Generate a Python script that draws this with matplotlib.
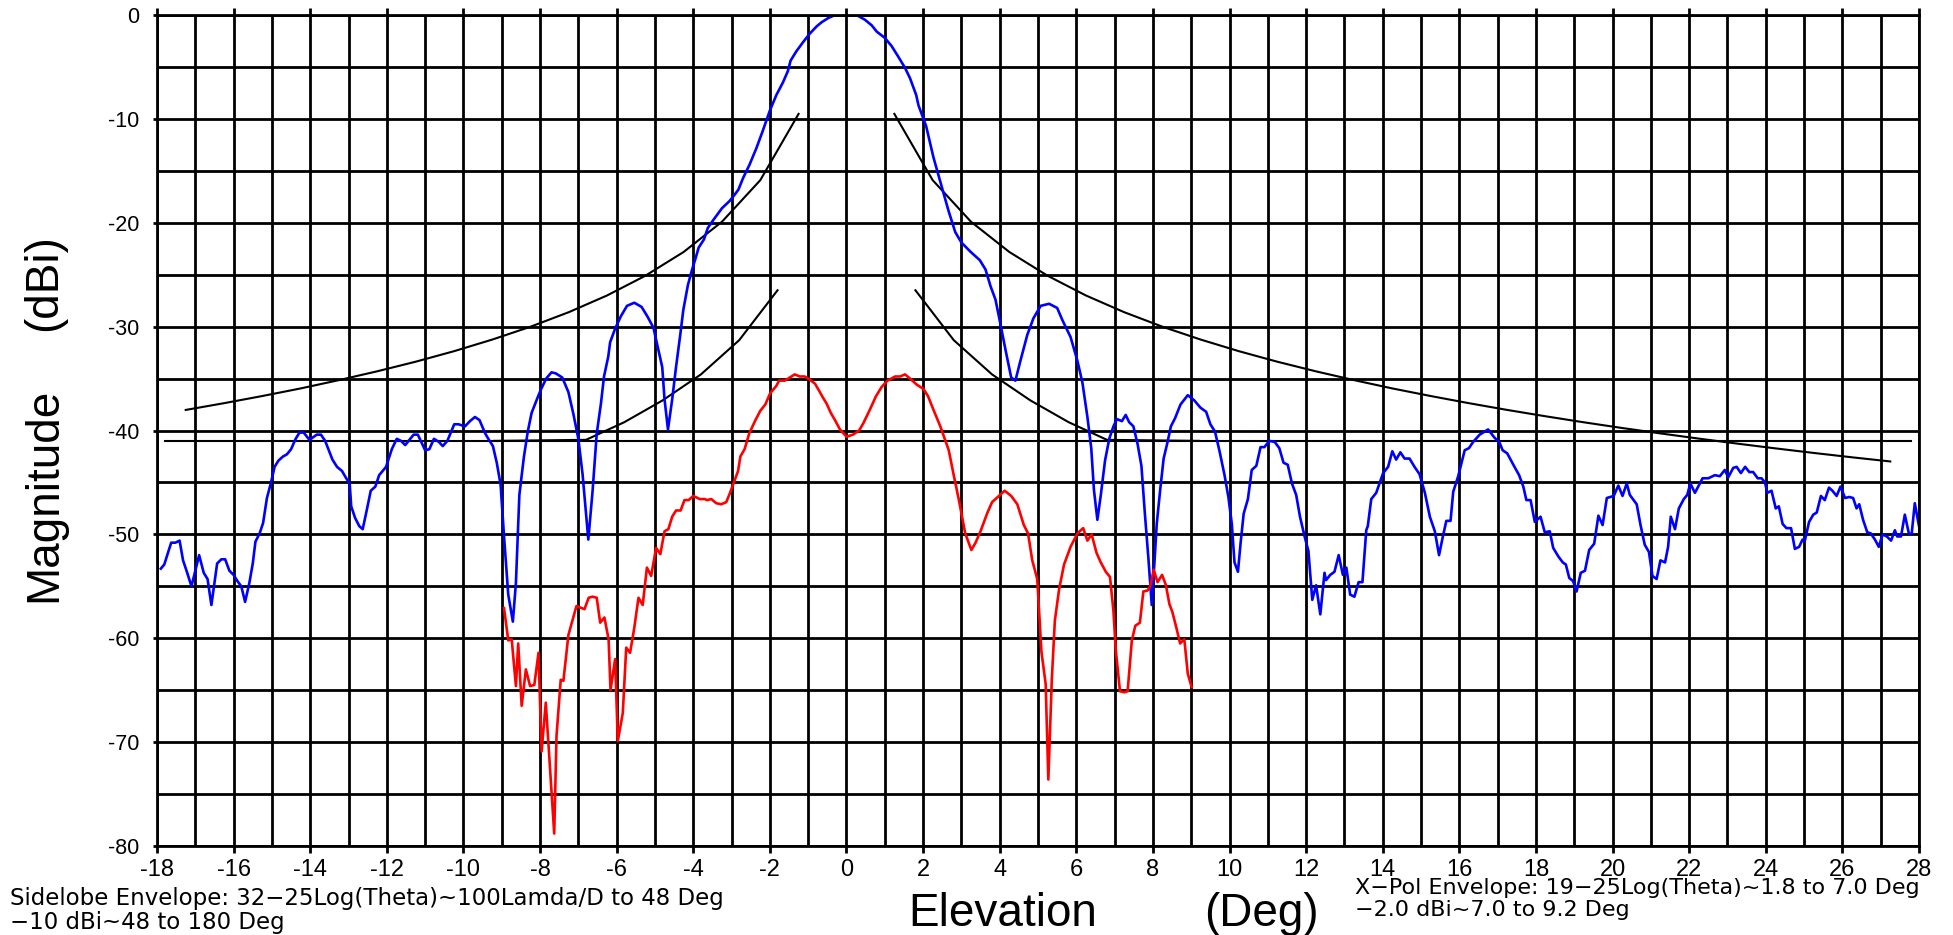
"""Antenna elevation pattern with sidelobe and x-pol envelopes."""
import matplotlib
matplotlib.use("Agg")
import matplotlib.pyplot as plt
from matplotlib.ticker import MultipleLocator

plt.rcParams.update({
    "font.family": ["Liberation Sans", "DejaVu Sans"],
    "axes.unicode_minus": False,
})

# ---- data -----------------------------------------------------------------
# co-pol (blue)
copol_x = [
    -17.9, -17.81, -17.63, -17.52, -17.41, -17.32, -17.22, -17.1, -16.9, -16.78,
    -16.68, -16.58, -16.43, -16.32, -16.22, -16.11, -16.0, -15.9, -15.8, -15.7,
    -15.59, -15.5, -15.43, -15.32, -15.23, -15.13, -15.03, -14.93, -14.83, -14.71,
    -14.61, -14.5, -14.38, -14.28, -14.17, -14.02, -13.83, -13.72, -13.61, -13.42,
    -13.3, -13.17, -13.06, -12.97, -12.93, -12.83, -12.72, -12.63, -12.52, -12.42,
    -12.3, -12.2, -12.02, -11.87, -11.74, -11.63, -11.52, -11.41, -11.3, -11.19,
    -11.09, -11.0, -10.89, -10.77, -10.64, -10.54, -10.42, -10.24, -10.13, -9.96,
    -9.83, -9.7, -9.58, -9.43, -9.35, -9.23, -9.13, -9.03, -8.94, -8.83,
    -8.71, -8.63, -8.54, -8.42, -8.32, -8.22, -8.05, -7.97, -7.84, -7.7,
    -7.59, -7.42, -7.26, -7.13, -7.0, -6.89, -6.74, -6.63, -6.52, -6.41,
    -6.33, -6.22, -6.17, -6.04, -5.89, -5.73, -5.54, -5.35, -5.2, -5.04,
    -4.93, -4.81, -4.75, -4.66, -4.55, -4.45, -4.34, -4.26, -4.14, -4.03,
    -3.93, -3.86, -3.72, -3.62, -3.47, -3.25, -3.05, -2.92, -2.82, -2.7,
    -2.53, -2.35, -2.2, -2.0, -1.83, -1.66, -1.53, -1.46, -1.31, -1.13,
    -0.96, -0.78, -0.65, -0.48, -0.3, 0.0, 0.26, 0.48, 0.66, 0.79,
    1.0, 1.18, 1.35, 1.53, 1.66, 1.82, 1.88, 2.08, 2.17, 2.27,
    2.4, 2.53, 2.66, 2.84, 3.0, 3.24, 3.48, 3.63, 3.76, 3.89,
    4.0, 4.15, 4.3, 4.41, 4.54, 4.72, 4.88, 5.07, 5.29, 5.5,
    5.64, 5.85, 6.03, 6.16, 6.29, 6.39, 6.46, 6.55, 6.64, 6.75,
    6.86, 6.97, 7.06, 7.19, 7.29, 7.38, 7.49, 7.6, 7.7, 7.79,
    7.88, 7.97, 8.04, 8.1, 8.19, 8.28, 8.37, 8.47, 8.58, 8.72,
    8.91, 9.08, 9.24, 9.39, 9.5, 9.62, 9.74, 9.87, 9.97, 10.06,
    10.13, 10.22, 10.29, 10.37, 10.48, 10.58, 10.7, 10.81, 10.91, 11.04,
    11.18, 11.3, 11.41, 11.52, 11.63, 11.74, 11.84, 11.96, 12.06, 12.16,
    12.26, 12.37, 12.48, 12.52, 12.63, 12.74, 12.85, 12.96, 13.05, 13.15,
    13.26, 13.37, 13.47, 13.57, 13.61, 13.7, 13.83, 14.01, 14.14, 14.25,
    14.35, 14.46, 14.57, 14.7, 14.83, 14.96, 15.1, 15.23, 15.36, 15.47,
    15.57, 15.66, 15.77, 15.84, 15.97, 16.14, 16.25, 16.36, 16.53, 16.75,
    16.92, 17.04, 17.13, 17.25, 17.41, 17.56, 17.67, 17.75, 17.86, 17.97,
    18.12, 18.23, 18.36, 18.45, 18.58, 18.7, 18.78, 18.87, 18.97, 19.06,
    19.17, 19.28, 19.39, 19.52, 19.63, 19.74, 19.85, 20.03, 20.15, 20.26,
    20.37, 20.45, 20.63, 20.73, 20.84, 20.95, 21.04, 21.15, 21.25, 21.37,
    21.45, 21.52, 21.63, 21.73, 21.86, 21.95, 22.03, 22.15, 22.35, 22.5,
    22.67, 22.8, 22.93, 23.02, 23.15, 23.24, 23.35, 23.46, 23.57, 23.67,
    23.79, 23.89, 23.98, 24.04, 24.15, 24.26, 24.34, 24.44, 24.54, 24.66,
    24.76, 24.87, 24.96, 25.02, 25.13, 25.24, 25.33, 25.44, 25.54, 25.65,
    25.74, 25.85, 25.95, 26.07, 26.18, 26.28, 26.37, 26.44, 26.54, 26.65,
    26.74, 26.85, 26.95, 27.05, 27.16, 27.27, 27.37, 27.43, 27.53, 27.63,
    27.74, 27.81, 27.89, 28.0,
]
copol_y = [
    -53.3, -52.9, -50.8, -50.8, -50.6, -52.5, -53.6, -55.0, -52.0, -53.7,
    -54.3, -56.8, -52.8, -52.4, -52.4, -53.5, -53.9, -54.5, -55.0, -56.5,
    -54.7, -52.8, -50.7, -49.9, -48.9, -46.5, -45.1, -43.5, -42.9, -42.5,
    -42.3, -41.8, -40.8, -40.2, -40.2, -40.9, -40.4, -40.4, -41.0, -42.8,
    -43.5, -43.9, -44.6, -45.1, -47.3, -48.4, -49.2, -49.5, -47.6, -45.8,
    -45.4, -44.3, -43.5, -41.8, -40.8, -41.0, -41.4, -40.9, -40.4, -40.4,
    -41.2, -41.9, -41.8, -40.8, -41.1, -41.5, -41.0, -39.4, -39.4, -39.6,
    -39.1, -38.7, -39.0, -40.3, -40.8, -41.5, -43.1, -45.2, -50.2, -55.8,
    -58.4, -54.7, -46.2, -42.5, -40.1, -38.3, -36.7, -36.0, -35.0, -34.4,
    -34.5, -34.9, -36.3, -38.4, -40.8, -44.2, -50.5, -45.9, -40.3, -37.4,
    -34.8, -32.9, -31.5, -30.2, -29.0, -28.0, -27.7, -28.1, -29.0, -30.1,
    -31.9, -33.9, -37.0, -39.9, -37.0, -33.9, -30.8, -28.4, -26.0, -24.5,
    -23.3, -22.4, -21.6, -20.5, -19.7, -18.6, -17.9, -17.3, -16.8, -15.7,
    -14.4, -12.8, -11.3, -9.2, -7.7, -6.5, -5.4, -4.4, -3.5, -2.6,
    -1.8, -1.1, -0.7, -0.3, 0.0, 0.0, 0.0, -0.45, -1.0, -1.6,
    -2.2, -3.0, -4.0, -5.1, -6.1, -7.7, -8.7, -10.7, -12.1, -13.7,
    -15.4, -17.1, -18.8, -20.9, -21.9, -22.8, -23.6, -24.5, -26.1, -27.4,
    -29.4, -32.2, -34.9, -35.2, -33.3, -30.8, -29.2, -28.0, -27.8, -28.2,
    -29.4, -31.0, -33.3, -35.4, -38.7, -41.7, -45.7, -48.6, -46.2, -42.9,
    -40.8, -39.6, -38.9, -39.1, -38.5, -39.2, -39.6, -41.3, -43.4, -48.0,
    -52.2, -56.8, -52.7, -49.0, -45.7, -42.7, -41.3, -39.6, -38.8, -37.5,
    -36.6, -37.1, -37.8, -38.2, -39.4, -40.1, -42.0, -44.3, -46.4, -49.0,
    -52.7, -53.6, -50.8, -48.0, -46.6, -43.8, -43.4, -41.6, -41.6, -41.0,
    -41.1, -41.7, -43.1, -43.3, -45.1, -46.2, -48.3, -50.2, -51.6, -56.3,
    -54.9, -57.7, -53.7, -54.4, -53.9, -53.6, -52.0, -53.9, -53.2, -55.8,
    -56.0, -54.6, -54.6, -49.6, -49.2, -46.6, -46.0, -44.1, -43.5, -42.0,
    -42.8, -42.1, -42.7, -42.7, -43.5, -44.2, -46.0, -48.3, -49.7, -52.0,
    -50.2, -48.7, -48.7, -45.9, -44.4, -41.9, -41.7, -41.1, -40.4, -39.9,
    -40.7, -41.1, -41.9, -42.2, -43.3, -44.3, -45.4, -46.7, -46.7, -48.8,
    -48.3, -49.8, -49.7, -51.3, -52.1, -52.7, -52.9, -54.2, -54.5, -55.5,
    -53.7, -53.5, -51.5, -50.9, -48.2, -49.1, -46.5, -46.3, -45.3, -46.3,
    -45.1, -46.2, -47.1, -49.1, -51.0, -51.7, -54.0, -54.3, -52.5, -52.7,
    -51.2, -48.3, -49.5, -47.5, -46.6, -46.2, -45.1, -46.0, -44.6, -44.6,
    -44.3, -44.4, -43.8, -44.5, -43.6, -43.5, -44.1, -43.5, -44.0, -44.0,
    -44.6, -44.6, -45.0, -46.0, -45.8, -47.5, -47.3, -49.0, -49.4, -49.4,
    -51.4, -51.2, -50.5, -50.6, -48.8, -48.1, -47.9, -46.3, -46.7, -45.5,
    -45.8, -46.3, -45.4, -46.5, -46.4, -46.5, -47.5, -47.1, -48.6, -49.8,
    -49.9, -50.5, -51.2, -50.0, -50.2, -50.6, -49.6, -50.2, -50.2, -48.1,
    -50.0, -49.9, -47.0, -49.2,
]

# cross-pol (red)
xpol_x = [
    -8.94, -8.83, -8.74, -8.63, -8.57, -8.48, -8.37, -8.26, -8.15, -8.04,
    -7.96, -7.85, -7.63, -7.57, -7.46, -7.39, -7.26, -7.05, -6.84, -6.73,
    -6.63, -6.52, -6.43, -6.32, -6.21, -6.16, -6.04, -5.97, -5.84, -5.75,
    -5.65, -5.54, -5.43, -5.32, -5.21, -5.1, -4.97, -4.86, -4.75, -4.65,
    -4.55, -4.45, -4.33, -4.23, -4.12, -4.0, -3.83, -3.7, -3.64, -3.53,
    -3.4, -3.27, -3.14, -3.05, -2.96, -2.83, -2.77, -2.66, -2.54, -2.39,
    -2.25, -2.12, -1.99, -1.83, -1.76, -1.61, -1.48, -1.35, -1.22, -1.09,
    -0.96, -0.82, -0.71, -0.62, -0.52, -0.41, -0.3, -0.17, 0.0, 0.17,
    0.33, 0.44, 0.61, 0.77, 0.92, 1.07, 1.27, 1.4, 1.53, 1.66,
    1.84, 2.01, 2.13, 2.27, 2.45, 2.67, 2.8, 2.93, 3.1, 3.26,
    3.37, 3.5, 3.67, 3.8, 3.95, 4.13, 4.3, 4.46, 4.63, 4.74,
    4.85, 4.98, 5.09, 5.2, 5.27, 5.36, 5.44, 5.55, 5.68, 5.85,
    6.03, 6.18, 6.29, 6.4, 6.53, 6.64, 6.77, 6.88, 6.97, 7.03,
    7.14, 7.25, 7.34, 7.45, 7.54, 7.66, 7.75, 7.86, 7.93, 8.02,
    8.12, 8.24, 8.34, 8.43, 8.51, 8.62, 8.71, 8.82, 8.91, 9.01,
]
xpol_y = [
    -57.1, -60.2, -60.1, -64.6, -60.5, -66.5, -63.0, -64.6, -64.5, -61.4,
    -70.9, -66.2, -78.8, -69.4, -64.0, -64.1, -59.7, -56.9, -57.2, -56.1,
    -56.0, -56.1, -58.5, -58.0, -60.1, -65.0, -62.0, -69.9, -67.2, -60.9,
    -61.4, -59.0, -56.1, -56.8, -53.2, -54.0, -51.3, -51.9, -49.7, -49.5,
    -48.3, -47.7, -47.7, -46.7, -46.7, -46.3, -46.6, -46.6, -46.7, -46.6,
    -47.0, -47.1, -46.9, -46.1, -45.2, -43.9, -42.5, -41.8, -40.3, -39.1,
    -38.1, -37.5, -36.4, -35.7, -35.2, -35.2, -34.9, -34.6, -34.8, -34.8,
    -35.1, -35.5, -36.2, -36.8, -37.4, -38.3, -39.0, -39.9, -40.6, -40.4,
    -40.0, -39.3, -38.0, -36.7, -35.8, -35.2, -34.8, -34.8, -34.6, -35.0,
    -35.6, -36.0, -36.7, -38.0, -39.6, -41.9, -44.3, -46.6, -49.9, -51.5,
    -50.8, -49.7, -48.0, -46.9, -46.4, -45.8, -46.3, -47.1, -49.1, -49.9,
    -52.5, -54.3, -61.3, -64.4, -73.6, -64.0, -58.3, -55.3, -52.9, -51.2,
    -49.9, -49.4, -50.6, -50.0, -51.8, -52.7, -53.6, -54.1, -57.4, -61.1,
    -65.1, -65.2, -65.1, -60.2, -58.8, -58.5, -55.5, -55.4, -55.0, -53.4,
    -54.6, -53.9, -54.9, -56.7, -57.5, -59.1, -60.5, -60.1, -63.4, -64.7,
]

# sidelobe envelope, sampled every degree from 100 lambda/D
sl_left_x = [-17.25, -16.25, -15.25, -14.25, -13.25, -12.25, -11.25, -10.25, -9.25,
             -8.25, -7.25, -6.25, -5.25, -4.25, -3.25, -2.25, -1.25]
sl_left_y = [-38.02, -37.37, -36.68, -35.95, -35.15, -34.30, -33.38, -32.37, -31.25,
             -30.01, -28.61, -27.00, -25.10, -22.81, -19.90, -15.90, -9.52]
sl_right_x = [1.25, 2.25, 3.25, 4.25, 5.25, 6.25, 7.25, 8.25, 9.25, 10.25, 11.25,
              12.25, 13.25, 14.25, 15.25, 16.25, 17.25, 18.25, 19.25, 20.25, 21.25,
              22.25, 23.25, 24.25, 25.25, 26.25, 27.25]
sl_right_y = [-9.52, -15.90, -19.90, -22.81, -25.10, -27.00, -28.61, -30.01, -31.25,
              -32.37, -33.38, -34.30, -35.15, -35.95, -36.68, -37.37, -38.02, -38.63,
              -39.21, -39.76, -40.28, -40.78, -41.26, -41.72, -42.16, -42.58, -42.98]

# x-pol envelope
xe_left_x = [-9.2, -6.8, -5.8, -4.8, -3.8, -2.8, -1.8]
xe_left_y = [-41.0, -40.9, -39.2, -37.1, -34.6, -31.3, -26.5]
xe_right_x = [1.8, 2.8, 3.8, 4.8, 5.8, 6.8, 9.2]
xe_right_y = [-26.5, -31.3, -34.6, -37.1, -39.2, -40.9, -41.0]

# flat level line across the plot
flat_x = [-17.8, 27.8]
flat_y = [-41.0, -41.0]

x_ticks = list(range(-18, 29, 2))
y_ticks = list(range(-80, 1, 10))

# ---- figure ---------------------------------------------------------------
fig = plt.figure(figsize=(19.53, 9.35), dpi=100)
ax = fig.add_axes([157 / 1953, 1 - 846 / 935, 1762 / 1953, 831 / 935])

ax.plot(flat_x, flat_y, color="black", lw=1.5)
for ex, ey in [(sl_left_x, sl_left_y), (sl_right_x, sl_right_y),
               (xe_left_x, xe_left_y), (xe_right_x, xe_right_y)]:
    ax.plot(ex, ey, color="black", lw=1.5)
ax.plot(copol_x, copol_y, color="#0000ff", lw=1.9)
ax.plot(xpol_x, xpol_y, color="#ff0000", lw=1.9)

ax.set_xlim(-18, 28)
ax.set_ylim(-80, 0)
ax.set_xticks(x_ticks)
ax.set_yticks(y_ticks)
ax.xaxis.set_minor_locator(MultipleLocator(1))
ax.yaxis.set_minor_locator(MultipleLocator(5))
ax.grid(which="both", color="black", lw=2.0)
ax.set_axisbelow(True)
for s in ax.spines.values():
    s.set_linewidth(2.0)

ax.tick_params(axis="x", which="major", direction="out", top=True, bottom=True,
               length=5, width=2.0, labelsize=17, pad=4)
ax.tick_params(axis="y", which="major", direction="out", left=True, right=False,
               length=3, width=2.0, labelsize=15.5, pad=10)
ax.tick_params(which="minor", length=0)

# axis titles (placed by hand, the way the original plotter does)
label_kw = dict(fontsize=33, ha="center")
fig.text(0.0225, 1 - 495 / 935, "Magnitude", rotation=90, va="center", **label_kw)
fig.text(0.0225, 1 - 283 / 935, "(dBi)", rotation=90, va="center", **label_kw)
fig.text(1003 / 1953, 1 - 926 / 935, "Elevation", va="baseline", **label_kw)
fig.text(1261 / 1953, 1 - 926 / 935, "(Deg)", va="baseline", **label_kw)

note_kw = dict(fontsize=16.5, family="DejaVu Sans", ha="left", va="center")
fig.text(10 / 1953, 1 - 899 / 935,
         "Sidelobe Envelope: 32\u221225Log(Theta)~100Lamda/D to 48 Deg", **note_kw)
fig.text(10 / 1953, 1 - 922 / 935, "\u221210 dBi~48 to 180 Deg", **note_kw)
note_kw["fontsize"] = 16
fig.text(1355 / 1953, 1 - 888 / 935,
         "X\u2212Pol Envelope: 19\u221225Log(Theta)~1.8 to 7.0 Deg", **note_kw)
fig.text(1355 / 1953, 1 - 910 / 935, "\u22122.0 dBi~7.0 to 9.2 Deg", **note_kw)

fig.savefig("out.png", dpi=100)
